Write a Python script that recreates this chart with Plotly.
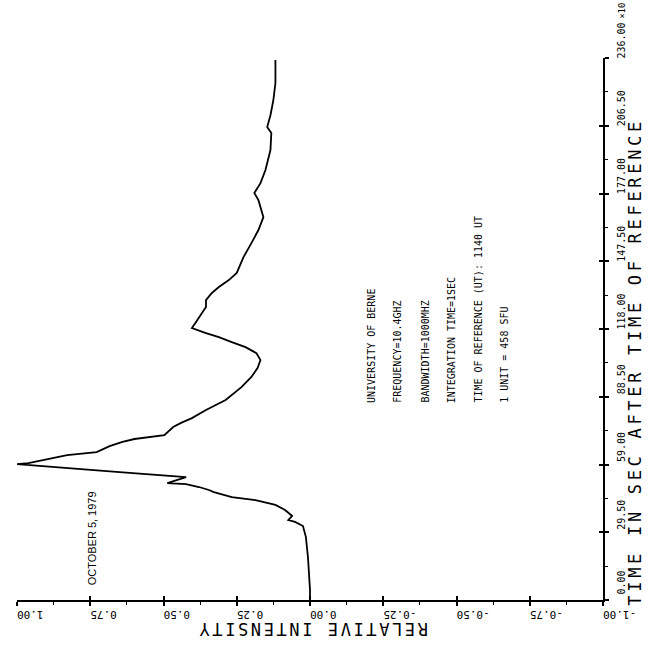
import plotly.graph_objects as go

# ---- data (time in s after reference, relative intensity) ----
time_s = [0, 4.4, 18.7, 27.4, 32.2, 34.0, 34.8, 36.6, 39.2, 41.4,
          43.5, 44.8, 47.0, 47.9, 49.2, 50.5, 50.9, 53.5, 55.7, 58.8,
          59.2, 59.6, 63.1, 64.4, 67.0, 68.8, 70.1, 71.8, 73.6, 75.3,
          77.1, 79.2, 82.7, 87.1, 92.7, 97.1, 101.0, 104.5, 107.5, 110.1,
          112.3, 114.5, 116.2, 118.4, 121.0, 122.8, 124.9, 127.6, 130.6, 133.7,
          136.3, 139.3, 142.4, 149.3, 155.4, 161.1, 166.7, 174.1, 177.2, 181.5,
          187.2, 195.9, 203.3, 205.9, 211.1, 217.7, 225.1, 235.1]
intensity = [0.0, 0.0, 0.007, 0.014, 0.024, 0.051, 0.074, 0.061, 0.085, 0.118,
             0.186, 0.267, 0.328, 0.345, 0.379, 0.423, 0.487, 0.423, 0.65, 0.988,
             1.0, 0.961, 0.829, 0.728, 0.684, 0.640, 0.599, 0.497, 0.481, 0.467,
             0.440, 0.403, 0.355, 0.288, 0.234, 0.200, 0.179, 0.169, 0.183, 0.220,
             0.267, 0.311, 0.355, 0.403, 0.389, 0.379, 0.369, 0.355, 0.355, 0.335,
             0.311, 0.277, 0.250, 0.227, 0.200, 0.176, 0.159, 0.176, 0.190, 0.169,
             0.152, 0.135, 0.132, 0.146, 0.135, 0.125, 0.118, 0.118]

x_tickvals = [1.0, 0.75, 0.5, 0.25, 0.0, -0.25, -0.5, -0.75, -1.0]
x_ticktext = ["1.00", "0.75", "0.50", "0.25", "0.00", "-0.25", "-0.50", "-0.75", "-1.00"]
y_tickvals = [0, 29.5, 59, 88.5, 118, 147.5, 177, 206.5, 236]
y_ticktext = ["0.00", "29.50", "59.00", "88.50", "118.00", "147.50", "177.00", "206.50", "236.00"]

info_lines = ["UNIVERSITY OF BERNE", "FREQUENCY=10.4GHZ", "BANDWIDTH=1000MHZ",
              "INTEGRATION TIME=1SEC", "TIME OF REFERENCE (UT): 1140 UT", "1 UNIT = 458 SFU"]
date_text = "OCTOBER 5, 1979"
x_title = "RELATIVE INTENSITY"
y_title = "TIME IN SEC AFTER TIME OF REFERENCE"

# ---- layout geometry (pixels) ----
W, H = 648, 647
L, R, T, B = 17, 608, 58, 600
MONO = "DejaVu Sans Mono"
SANS = "Liberation Sans"


def px(xp):
    return (xp - L) / (R - L)


def py(yp):
    return (B - yp) / (B - T)


fig = go.Figure()
fig.add_trace(go.Scatter(x=intensity, y=time_s, mode="lines",
                         line=dict(color="black", width=1.8),
                         showlegend=False, hoverinfo="skip"))
# invisible trace to carry the inside (crossing) tick marks
fig.add_trace(go.Scatter(x=[None], y=[None], xaxis="x2", yaxis="y2",
                         showlegend=False, hoverinfo="skip"))

axis_common = dict(showgrid=False, zeroline=False, showline=True,
                   linecolor="black", linewidth=1.5, ticks="outside",
                   ticklen=4, tickwidth=1.5, tickcolor="black")

fig.update_layout(
    width=W, height=H,
    margin=dict(l=L, r=W - R, t=T, b=H - B, pad=0),
    paper_bgcolor="white", plot_bgcolor="white",
    xaxis=dict(range=[1, -1], tickmode="array", tickvals=x_tickvals,
               ticktext=x_ticktext, tickangle=180, ticklabelstandoff=3,
               tickfont=dict(family=MONO, size=11, color="black"),
               minor=dict(tick0=0, dtick=0.125, ticks="outside", ticklen=3,
                          tickwidth=1.2, tickcolor="black"),
               **axis_common),
    yaxis=dict(range=[0, 236], side="right", tickmode="array",
               tickvals=y_tickvals, ticktext=y_ticktext, tickangle=-90,
               ticklabelshift=-16, ticklabelstandoff=4,
               tickfont=dict(family=MONO, size=10, color="black"),
               minor=dict(tick0=0, dtick=14.75, ticks="outside", ticklen=3,
                          tickwidth=1.2, tickcolor="black"),
               **axis_common),
    xaxis2=dict(overlaying="x", anchor="y2", range=[1, -1], tickmode="array",
                tickvals=x_tickvals, ticks="inside", ticklen=4, tickwidth=1.5,
                tickcolor="black", showticklabels=False, showline=False,
                showgrid=False, zeroline=False, side="bottom"),
    yaxis2=dict(overlaying="y", anchor="x2", range=[0, 236], side="right",
                tickmode="array", tickvals=y_tickvals, ticks="inside",
                ticklen=4, tickwidth=1.5, tickcolor="black",
                showticklabels=False, showline=False, showgrid=False,
                zeroline=False),
)

annotations = []
info_x = [374, 400, 428, 455, 482, 508]
for xp, txt in zip(info_x, info_lines):
    annotations.append(dict(x=px(xp), y=py(405), xref="paper", yref="paper",
                            text=txt, textangle=-90, showarrow=False,
                            xanchor="center", yanchor="bottom",
                            font=dict(family=MONO, size=10, color="black")))

annotations.append(dict(x=px(93), y=py(538), xref="paper", yref="paper",
                        text=date_text, textangle=-90, showarrow=False,
                        xanchor="center", yanchor="middle",
                        font=dict(family=SANS, size=11, color="black")))

annotations.append(dict(x=px(640), y=py(362), xref="paper", yref="paper",
                        text='<span style="letter-spacing:3.7px">' + y_title + '</span>',
                        textangle=-90, showarrow=False,
                        xanchor="center", yanchor="middle",
                        font=dict(family=MONO, size=17, color="black")))

annotations.append(dict(x=px(315), y=py(629), xref="paper", yref="paper",
                        text='<span style="letter-spacing:2.6px">' + x_title + '</span>',
                        textangle=180, showarrow=False,
                        xanchor="center", yanchor="middle",
                        font=dict(family=MONO, size=17, color="black")))

annotations.append(dict(x=px(627), y=py(1), xref="paper", yref="paper",
                        text="×10", textangle=-90, showarrow=False,
                        xanchor="center", yanchor="top",
                        font=dict(family=MONO, size=9, color="black")))

fig.update_layout(annotations=annotations)

fig.write_html("out.html", config={"displayModeBar": False},
               post_script="document.body.style.margin='0';document.body.style.overflow='hidden';")
